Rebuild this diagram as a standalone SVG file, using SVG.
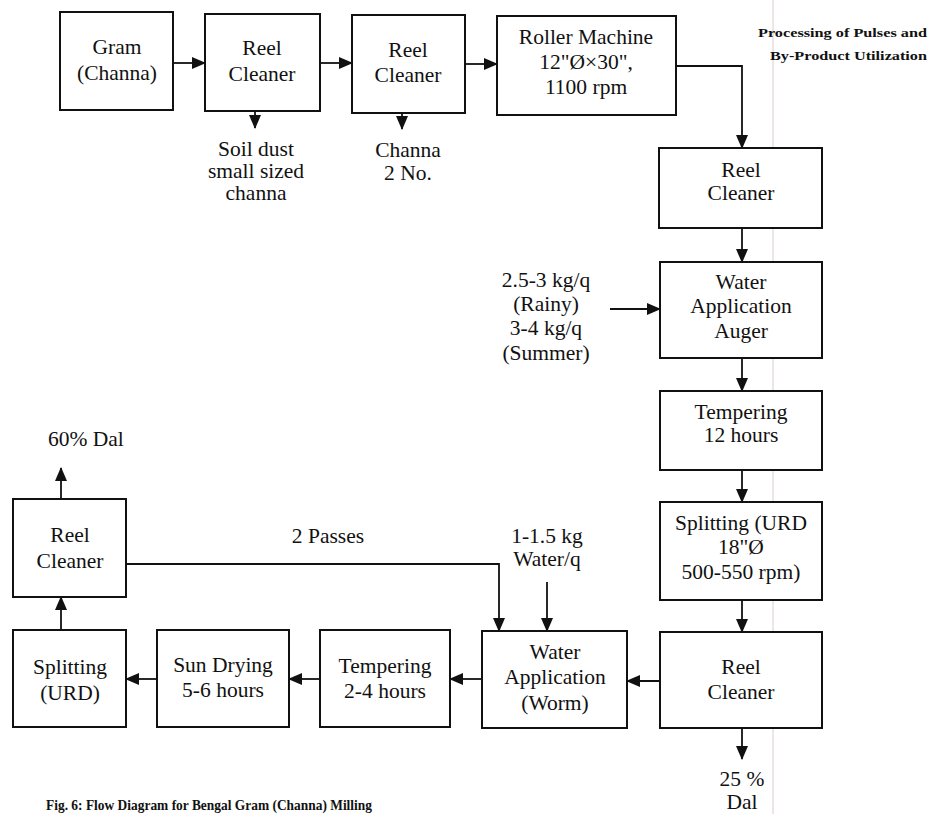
<svg xmlns="http://www.w3.org/2000/svg" width="933" height="814" viewBox="0 0 933 814">
<style>
.box{fill:#fff;stroke:#111;stroke-width:2}
.t{font-family:"Liberation Serif","Times New Roman",serif;font-size:21.5px;fill:#111;text-anchor:middle}
.l{font-family:"Liberation Serif","Times New Roman",serif;font-size:21.5px;fill:#111;text-anchor:middle}
.c{fill:none;stroke:#111;stroke-width:1.8}
.h{font-family:"Liberation Serif","Times New Roman",serif;font-size:13.5px;font-weight:bold;fill:#111;text-anchor:end}
</style>
<defs>
<marker id="ah" markerUnits="userSpaceOnUse" markerWidth="14" markerHeight="14" viewBox="0 0 14 14" refX="13" refY="7" orient="auto">
<path d="M0,1 L14,7 L0,13 Z" fill="#111"/>
</marker>
</defs>
<rect x="0" y="0" width="933" height="814" fill="#fff"/>
<g id="background">
<line x1="773" y1="0" x2="773" y2="814" stroke="#e6dede" stroke-width="1.5"/>
</g>
<g id="header">
<text class="h" x="927" y="37" textLength="169" lengthAdjust="spacingAndGlyphs">Processing of Pulses and</text>
<text class="h" x="927" y="60" textLength="157" lengthAdjust="spacingAndGlyphs">By-Product Utilization</text>
</g>
<g id="connectors">
<line class="c" x1="173" y1="63" x2="205" y2="63" marker-end="url(#ah)"/>
<line class="c" x1="320" y1="63" x2="352" y2="63" marker-end="url(#ah)"/>
<line class="c" x1="465" y1="64" x2="497" y2="64" marker-end="url(#ah)"/>
<line class="c" x1="255" y1="111" x2="255" y2="128" marker-end="url(#ah)"/>
<line class="c" x1="402" y1="113" x2="402" y2="129" marker-end="url(#ah)"/>
<path class="c" d="M676,66 H742 V148" marker-end="url(#ah)"/>
<line class="c" x1="742" y1="228" x2="742" y2="262" marker-end="url(#ah)"/>
<line class="c" x1="610" y1="309" x2="660" y2="309" marker-end="url(#ah)"/>
<line class="c" x1="742" y1="358" x2="742" y2="391" marker-end="url(#ah)"/>
<line class="c" x1="742" y1="470" x2="742" y2="502" marker-end="url(#ah)"/>
<line class="c" x1="742" y1="600" x2="742" y2="632" marker-end="url(#ah)"/>
<line class="c" x1="742" y1="728" x2="742" y2="759" marker-end="url(#ah)"/>
<line class="c" x1="660" y1="681" x2="627" y2="681" marker-end="url(#ah)"/>
<line class="c" x1="547" y1="582" x2="547" y2="631" marker-end="url(#ah)"/>
<path class="c" d="M126,564 H499 V631" marker-end="url(#ah)"/>
<line class="c" x1="482" y1="679" x2="450" y2="679" marker-end="url(#ah)"/>
<line class="c" x1="320" y1="679" x2="289" y2="679" marker-end="url(#ah)"/>
<line class="c" x1="157" y1="679" x2="126" y2="679" marker-end="url(#ah)"/>
<line class="c" x1="61" y1="630" x2="61" y2="597" marker-end="url(#ah)"/>
<line class="c" x1="61" y1="499" x2="61" y2="468" marker-end="url(#ah)"/>
</g>
<g id="gram">
<rect class="box" x="60" y="12" width="113" height="98"/>
<text class="t" x="117" y="54">Gram</text>
<text class="t" x="117" y="80">(Channa)</text>
</g>
<g id="reel1">
<rect class="box" x="205" y="14" width="115" height="97"/>
<text class="t" x="262" y="55">Reel</text>
<text class="t" x="262" y="81">Cleaner</text>
</g>
<g id="reel2">
<rect class="box" x="352" y="15" width="113" height="98"/>
<text class="t" x="408" y="57">Reel</text>
<text class="t" x="408" y="82">Cleaner</text>
</g>
<g id="roller">
<rect class="box" x="497" y="16" width="179" height="99"/>
<text class="t" x="586" y="44">Roller Machine</text>
<text class="t" x="586" y="69">12"Ø×30",</text>
<text class="t" x="586" y="94">1100 rpm</text>
</g>
<g id="soil">
<text class="l" x="256" y="156">Soil dust</text>
<text class="l" x="256" y="178">small sized</text>
<text class="l" x="256" y="200">channa</text>
</g>
<g id="channa2">
<text class="l" x="408" y="157">Channa</text>
<text class="l" x="408" y="180">2 No.</text>
</g>
<g id="reel3">
<rect class="box" x="659" y="148" width="163" height="80"/>
<text class="t" x="741" y="177">Reel</text>
<text class="t" x="741" y="200">Cleaner</text>
</g>
<g id="water-input">
<text class="l" x="546" y="287">2.5-3 kg/q</text>
<text class="l" x="546" y="311">(Rainy)</text>
<text class="l" x="546" y="335">3-4 kg/q</text>
<text class="l" x="546" y="360">(Summer)</text>
</g>
<g id="auger">
<rect class="box" x="660" y="262" width="162" height="96"/>
<text class="t" x="741" y="289">Water</text>
<text class="t" x="741" y="313">Application</text>
<text class="t" x="741" y="338">Auger</text>
</g>
<g id="temper12">
<rect class="box" x="660" y="391" width="162" height="79"/>
<text class="t" x="741" y="419">Tempering</text>
<text class="t" x="741" y="442">12 hours</text>
</g>
<g id="splitting1">
<rect class="box" x="660" y="502" width="162" height="98"/>
<text class="t" x="741" y="530">Splitting (URD</text>
<text class="t" x="741" y="554">18"Ø</text>
<text class="t" x="741" y="579">500-550 rpm)</text>
</g>
<g id="reel4">
<rect class="box" x="660" y="632" width="162" height="96"/>
<text class="t" x="741" y="674">Reel</text>
<text class="t" x="741" y="699">Cleaner</text>
</g>
<g id="dal25">
<text class="l" x="742" y="786">25 %</text>
<text class="l" x="742" y="809">Dal</text>
</g>
<g id="water-q">
<text class="l" x="547" y="543">1-1.5 kg</text>
<text class="l" x="547" y="566">Water/q</text>
</g>
<g id="worm">
<rect class="box" x="482" y="631" width="145" height="97"/>
<text class="t" x="555" y="659">Water</text>
<text class="t" x="555" y="684">Application</text>
<text class="t" x="555" y="710">(Worm)</text>
</g>
<g id="temper24">
<rect class="box" x="320" y="630" width="130" height="97"/>
<text class="t" x="385" y="673">Tempering</text>
<text class="t" x="385" y="698">2-4 hours</text>
</g>
<g id="sundry">
<rect class="box" x="157" y="630" width="132" height="97"/>
<text class="t" x="223" y="672">Sun Drying</text>
<text class="t" x="223" y="697">5-6 hours</text>
</g>
<g id="splitting2">
<rect class="box" x="13" y="630" width="113" height="97"/>
<text class="t" x="70" y="674">Splitting</text>
<text class="t" x="70" y="700">(URD)</text>
</g>
<g id="reel5">
<rect class="box" x="13" y="499" width="113" height="98"/>
<text class="t" x="70" y="542">Reel</text>
<text class="t" x="70" y="568">Cleaner</text>
</g>
<g id="labels">
<text class="l" x="48" y="446" style="text-anchor:start">60% Dal</text>
<text class="l" x="328" y="543">2 Passes</text>
</g>
<g id="caption">
<text x="46" y="810" textLength="326" lengthAdjust="spacingAndGlyphs" style="font-family:'Liberation Serif','Times New Roman',serif;font-size:15px;font-weight:bold;fill:#111">Fig. 6: Flow Diagram for Bengal Gram (Channa) Milling</text>
</g>
</svg>
